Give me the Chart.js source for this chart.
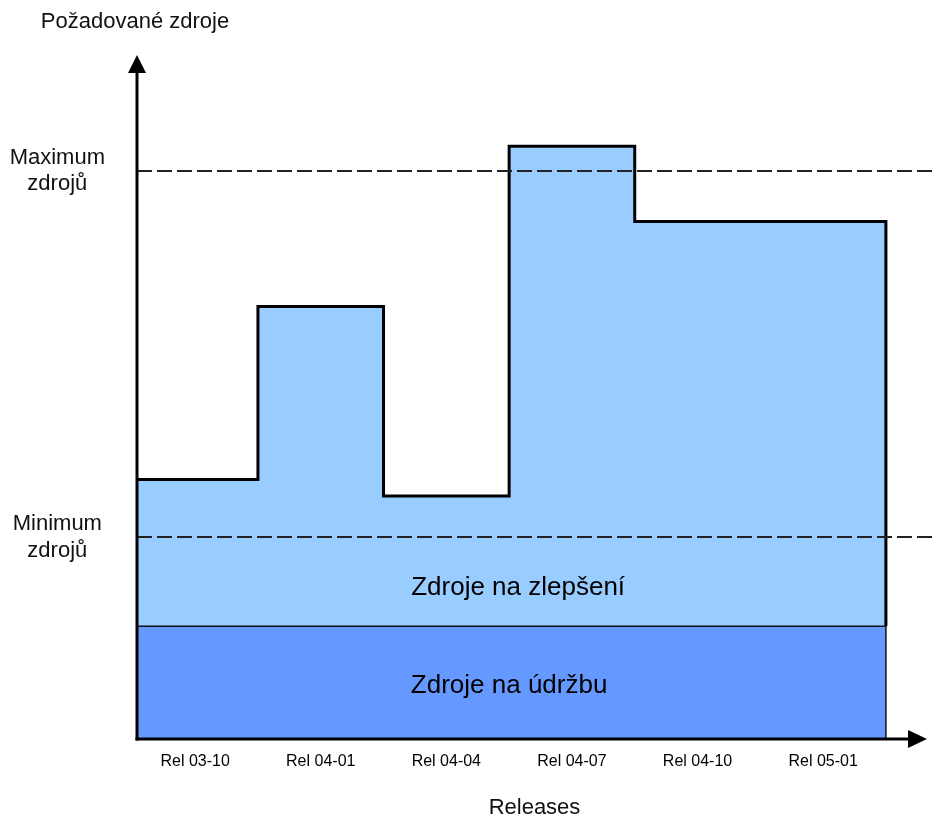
<!DOCTYPE html>
<html>
<head>
<meta charset="utf-8">
<script src="https://cdn.jsdelivr.net/npm/chart.js@4"></script>
<style>
  html, body { margin: 0; padding: 0; background: #fff; }
  #wrap { width: 932px; height: 816px; position: relative; }
</style>
</head>
<body>
<div id="wrap"><canvas id="c" width="932" height="816"></canvas></div>
<script>
// ---- data ----
const categories = ['Rel 03-10', 'Rel 04-01', 'Rel 04-04', 'Rel 04-07', 'Rel 04-10', 'Rel 05-01'];
const requiredResources = [38.2, 63.7, 35.8, 87.3, 76.2, 76.2];   // total required resources per release
const maintenanceLevel = 16.6;                                      // resources for maintenance
const maxResources = 83.7;
const minResources = 29.7;
const yTickLabels = [['Minimum', 'zdrojů'], ['Maximum', 'zdrojů']];
const yAxisTitle = 'Požadované zdroje';
const xAxisTitle = 'Releases';
const areaLabels = ['Zdroje na zlepšení', 'Zdroje na údržbu'];

const FONT = '"Liberation Sans", Arial, Helvetica, sans-serif';

// build step points from data
const improvementPts = requiredResources.map((v, i) => ({ x: i, y: v }));
improvementPts.push({ x: categories.length, y: requiredResources[requiredResources.length - 1] });
improvementPts.push({ x: categories.length, y: maintenanceLevel });

const maintenancePts = [
  { x: 0, y: maintenanceLevel },
  { x: categories.length, y: maintenanceLevel },
  { x: categories.length, y: 0 }
];

const decorPlugin = {
  id: 'decor',
  afterDraw(chart) {
    const ctx = chart.ctx;
    const a = chart.chartArea;
    const xs = chart.scales.x, ys = chart.scales.y;
    ctx.save();
    ctx.fillStyle = '#000';
    ctx.strokeStyle = '#000';
    // y axis line + arrow
    ctx.lineWidth = 3;
    ctx.beginPath();
    ctx.moveTo(a.left, a.bottom + 1.5);
    ctx.lineTo(a.left, a.top + 10);
    ctx.stroke();
    ctx.beginPath();
    ctx.moveTo(a.left, a.top - 5);
    ctx.lineTo(a.left - 9, a.top + 13);
    ctx.lineTo(a.left + 9, a.top + 13);
    ctx.closePath();
    ctx.fill();
    // x axis line + arrow
    ctx.beginPath();
    ctx.moveTo(a.left - 1.5, a.bottom);
    ctx.lineTo(a.right - 20, a.bottom);
    ctx.stroke();
    ctx.beginPath();
    ctx.moveTo(a.right - 5, a.bottom);
    ctx.lineTo(a.right - 24, a.bottom - 9);
    ctx.lineTo(a.right - 24, a.bottom + 9);
    ctx.closePath();
    ctx.fill();
    // y axis title at top, centred on the axis
    ctx.font = '22px ' + FONT;
    ctx.fillStyle = '#111';
    ctx.textAlign = 'center';
    ctx.textBaseline = 'middle';
    ctx.fillText(yAxisTitle, a.left - 2, 22);
    // area labels
    ctx.font = '26px ' + FONT;
    ctx.fillStyle = '#000';
    const xMid = xs.getPixelForValue(categories.length / 2);
    const yImp = (ys.getPixelForValue(maintenanceLevel) + ys.getPixelForValue(minResources)) / 2 + 6;
    const yMaint = (ys.getPixelForValue(maintenanceLevel) + ys.getPixelForValue(0)) / 2 + 3;
    ctx.fillText(areaLabels[0], xMid + 9, yImp);
    ctx.fillText(areaLabels[1], xMid, yMaint);
    ctx.restore();
  }
};

new Chart(document.getElementById('c'), {
  type: 'line',
  data: {
    datasets: [
      {
        label: areaLabels[1],
        data: maintenancePts,
        borderColor: '#111',
        borderWidth: 1.5,
        backgroundColor: '#6699ff',
        fill: 'origin',
        pointRadius: 0,
        tension: 0
      },
      {
        label: areaLabels[0],
        data: improvementPts,
        stepped: 'before',
        borderColor: '#000',
        borderWidth: 3,
        backgroundColor: '#99ccff',
        fill: 'origin',
        pointRadius: 0,
        borderJoinStyle: 'miter'
      }
    ]
  },
  options: {
    responsive: false,
    animation: false,
    devicePixelRatio: 1,
    layout: { padding: { top: 60, left: 0, right: 0, bottom: 0 } },
    plugins: {
      legend: { display: false },
      tooltip: { enabled: false },
      title: { display: false }
    },
    scales: {
      x: {
        type: 'linear',
        min: 0.037,
        max: 6.367,
        grid: { display: false, drawTicks: false },
        border: { display: false },
        afterBuildTicks(scale) {
          scale.ticks = categories.map((c, i) => ({ value: i + 0.5 }));
        },
        afterFit(scale) { scale.height = 77; },
        ticks: {
          autoSkip: false,
          maxRotation: 0,
          padding: 13,
          color: '#000',
          font: { family: FONT, size: 16 },
          callback: (v, i) => categories[i]
        },
        title: {
          display: true,
          text: xAxisTitle,
          color: '#111',
          font: { family: FONT, size: 22 },
          padding: { top: 0, bottom: -5 }
        }
      },
      y: {
        type: 'linear',
        min: 0,
        max: 100,
        z: 1,
        afterBuildTicks(scale) {
          scale.ticks = [{ value: minResources }, { value: maxResources }];
        },
        afterFit(scale) { scale.width = 137; },
        grid: {
          drawTicks: false,
          color: '#222',
          lineWidth: 2,
          z: 1
        },
        border: { display: false, dash: [15, 5] },
        ticks: {
          padding: 32,
          crossAlign: 'center',
          color: '#111',
          font: { family: FONT, size: 22, lineHeight: 1.2 },
          callback: (v) => (v === maxResources ? yTickLabels[1] : yTickLabels[0])
        }
      }
    }
  },
  plugins: [decorPlugin]
});
</script>
</body>
</html>
